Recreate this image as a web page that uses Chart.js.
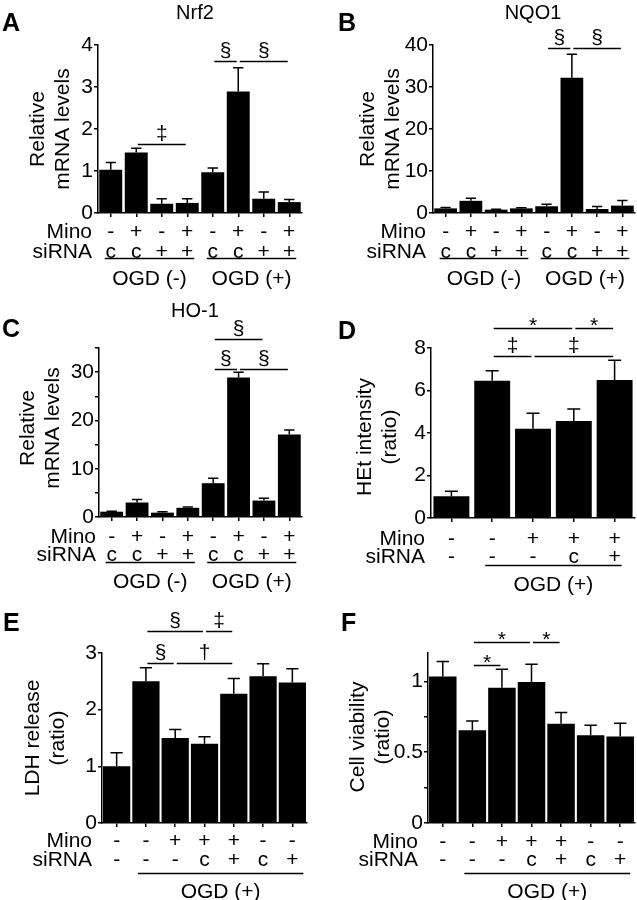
<!DOCTYPE html>
<html>
<head>
<meta charset="utf-8">
<script src="https://cdn.jsdelivr.net/npm/chart.js@4.4.1/dist/chart.umd.min.js"></script>
<style>
  body { margin: 0; background: #fff; }
  #wrap { position: relative; width: 637px; height: 900px; }
  canvas { position: absolute; }
</style>
</head>
<body>
<div id="wrap">
  <canvas id="chartA"></canvas>
  <canvas id="chartB"></canvas>
  <canvas id="chartC"></canvas>
  <canvas id="chartD"></canvas>
  <canvas id="chartE"></canvas>
  <canvas id="chartF"></canvas>
</div>
<script>
// conditions
var conditions8 = ["OGD- siC", "OGD- Mino siC", "OGD- siNrf2", "OGD- Mino siNrf2",
                   "OGD+ siC", "OGD+ Mino siC", "OGD+ siNrf2", "OGD+ Mino siNrf2"];
var conditions5 = ["Control", "OGD", "OGD Mino", "OGD Mino siC", "OGD Mino siNrf2"];
var conditions7 = ["Control", "OGD", "OGD Mino", "OGD Mino siC", "OGD Mino siNrf2", "OGD siC", "OGD siNrf2"];

// rows under the bars
var mino8 = ["-", "+", "-", "+", "-", "+", "-", "+"];
var sirna8 = ["c", "c", "+", "+", "c", "c", "+", "+"];
var groups8 = [[0, 3, "OGD (-)"], [4, 7, "OGD (+)"]];
var mino5 = ["-", "-", "+", "+", "+"];
var sirna5 = ["-", "-", "-", "c", "+"];
var groups5 = [[1, 4, "OGD (+)"]];
var mino7 = ["-", "-", "+", "+", "+", "-", "-"];
var sirna7 = ["-", "-", "-", "c", "+", "c", "+"];
var groups7 = [[1, 6, "OGD (+)"]];

// A  Nrf2
var nrf2Values = [1.03, 1.44, 0.22, 0.24, 0.97, 2.89, 0.34, 0.26];
var nrf2Errors = [0.17, 0.10, 0.12, 0.10, 0.10, 0.57, 0.16, 0.06];
var nrf2Brackets = [[1, 3, 1.65, "‡"], [4, 5, 3.62, "§"], [5, 7, 3.62, "§"]];

// B  NQO1
var nqo1Values = [1.1, 2.9, 0.8, 1.1, 1.6, 32.2, 0.95, 1.75];
var nqo1Errors = [0.2, 0.6, 0.1, 0.15, 0.5, 5.6, 0.6, 1.2];
var nqo1Brackets = [[4, 5, 39.3, "§"], [5, 7, 39.3, "§"]];

// C  HO-1
var ho1Values = [1.1, 3.0, 0.9, 1.9, 7.0, 28.9, 3.4, 17.1];
var ho1Errors = [0.1, 0.6, 0.2, 0.15, 1.0, 1.1, 0.5, 0.9];
var ho1Brackets = [[4, 6, 36.8, "§"], [4, 5, 30.6, "§"], [5, 7, 30.6, "§"]];

// D  HEt intensity
var hetValues = [1.02, 6.46, 4.2, 4.57, 6.5];
var hetErrors = [0.24, 0.47, 0.73, 0.56, 0.92];
var hetBrackets = [[1, 3, 8.94, "*"], [3, 4, 8.94, "*"], [1, 2, 7.62, "‡"], [2, 4, 7.62, "‡"]];

// E  LDH release
var ldhValues = [1.0, 2.5, 1.5, 1.4, 2.28, 2.59, 2.48];
var ldhErrors = [0.24, 0.24, 0.15, 0.12, 0.27, 0.22, 0.24];
var ldhBrackets = [[1, 3, 3.39, "§"], [3, 4, 3.39, "‡"], [1, 2, 2.82, "§"], [2, 4, 2.82, "†"]];

// F  Cell viability
var viaValues = [1.035, 0.655, 0.955, 0.995, 0.70, 0.62, 0.61];
var viaErrors = [0.105, 0.065, 0.13, 0.125, 0.08, 0.07, 0.095];
var viaBrackets = [[1, 3, 1.277, "*"], [3, 4, 1.277, "*"], [1, 2, 1.113, "*"]];

var FONT = '"Liberation Sans", Arial, sans-serif';
var TXT = 21;
var CAP = TXT * 0.36; // half cap height, to place text by its visual centre

var panels = [
  { id: "chartA", left: 0, top: 0, width: 318, height: 295,
    axisX: 98, axisRight: 302, axisTop: 45, axisBottom: 213,
    yMax: 4, yTicks: [0, 1, 2, 3, 4], yLabels: [0, 1, 2, 3, 4],
    categories: conditions8, values: nrf2Values, errors: nrf2Errors, brackets: nrf2Brackets,
    mino: mino8, sirna: sirna8, groups: groups8, barPct: 0.9,
    rowOff: [17, 37, 45, 64], rowLabelRight: 92, groupPad: [6, 7],
    title: ["Nrf2", 195, 12], yTitle: [["Relative", "mRNA levels"], [38, 63], 129], letter: ["A", 2, 22] },
  { id: "chartB", left: 318, top: 0, width: 319, height: 295,
    axisX: 433, axisRight: 635, axisTop: 45, axisBottom: 213,
    yMax: 40, yTicks: [0, 10, 20, 30, 40], yLabels: [0, 10, 20, 30, 40],
    categories: conditions8, values: nqo1Values, errors: nqo1Errors, brackets: nqo1Brackets,
    mino: mino8, sirna: sirna8, groups: groups8, barPct: 0.9,
    rowOff: [17, 37, 45, 64], rowLabelRight: 426, groupPad: [6, 7],
    title: ["NQO1", 533, 12], yTitle: [["Relative", "mRNA levels"], [368, 393], 129], letter: ["B", 338, 22] },
  { id: "chartC", left: 0, top: 295, width: 318, height: 305,
    axisX: 99, axisRight: 302, axisTop: 348, axisBottom: 517,
    yMax: 35, yTicks: [0, 5, 10, 15, 20, 25, 30, 35], yLabels: [0, 10, 20, 30],
    categories: conditions8, values: ho1Values, errors: ho1Errors, brackets: ho1Brackets,
    mino: mino8, sirna: sirna8, groups: groups8, barPct: 0.9,
    rowOff: [18, 36, 45, 63], rowLabelRight: 96, groupPad: [6, 7],
    title: ["HO-1", 195, 310], yTitle: [["Relative", "mRNA levels"], [28, 53], 428], letter: ["C", 2, 328] },
  { id: "chartD", left: 318, top: 295, width: 319, height: 305,
    axisX: 431, axisRight: 635, axisTop: 348, axisBottom: 518,
    yMax: 8, yTicks: [0, 2, 4, 6, 8], yLabels: [0, 2, 4, 6, 8],
    categories: conditions5, values: hetValues, errors: hetErrors, brackets: hetBrackets,
    mino: mino5, sirna: sirna5, groups: groups5, barPct: 0.88,
    rowOff: [19, 37, 47, 65], rowLabelRight: 425, groupPad: [7, 7],
    title: null, yTitle: [["HEt intensity", "(ratio)"], [365, 390], 437], letter: ["D", 338, 330] },
  { id: "chartE", left: 0, top: 600, width: 318, height: 300,
    axisX: 102, axisRight: 307, axisTop: 653, axisBottom: 823,
    yMax: 3, yTicks: [0, 1, 2, 3], yLabels: [0, 1, 2, 3],
    categories: conditions7, values: ldhValues, errors: ldhErrors, brackets: ldhBrackets,
    mino: mino7, sirna: sirna7, groups: groups7, barPct: 0.93,
    rowOff: [16, 35, 50, 67], rowLabelRight: 92, groupPad: [8, 11],
    title: null, yTitle: [["LDH release", "(ratio)"], [33, 58], 738], letter: ["E", 3, 622] },
  { id: "chartF", left: 318, top: 600, width: 319, height: 300,
    axisX: 428, axisRight: 635, axisTop: 653, axisBottom: 823,
    yMax: 1.2, yTicks: [0, 0.25, 0.5, 0.75, 1], yLabels: [0, 0.5, 1],
    categories: conditions7, values: viaValues, errors: viaErrors, brackets: viaBrackets,
    mino: mino7, sirna: sirna7, groups: groups7, barPct: 0.93,
    rowOff: [17, 35, 50, 67], rowLabelRight: 418, groupPad: [8, 10],
    title: null, yTitle: [["Cell viability", "(ratio)"], [358, 383], 737], letter: ["F", 341, 622] }
];

function figurePlugin(cfg) {
  return {
    id: "figure",
    afterDatasetsDraw: function(chart) {
      var ctx = chart.ctx;
      var xs = chart.scales.x, ys = chart.scales.y;
      var meta = chart.getDatasetMeta(0);
      var area = chart.chartArea;
      var ox = cfg.left, oy = cfg.top;
      ctx.save();
      ctx.strokeStyle = "#000";
      ctx.fillStyle = "#000";
      ctx.lineWidth = 1.5;

      // error bars (upper only)
      meta.data.forEach(function(bar, i) {
        var top = ys.getPixelForValue(cfg.values[i] + cfg.errors[i]);
        var cap = Math.min(13, bar.width * 0.45);
        ctx.beginPath();
        ctx.moveTo(bar.x, bar.y);
        ctx.lineTo(bar.x, top);
        ctx.moveTo(bar.x - cap / 2, top);
        ctx.lineTo(bar.x + cap / 2, top);
        ctx.stroke();
      });

      // significance brackets
      ctx.font = TXT + "px " + FONT;
      ctx.textAlign = "center";
      ctx.textBaseline = "alphabetic";
      cfg.brackets.forEach(function(b) {
        var xa = xs.getPixelForValue(b[0]) + 1.5;
        var xb = xs.getPixelForValue(b[1]) - 1.5;
        var yy = Math.round(ys.getPixelForValue(b[2])) + 0.5;
        ctx.beginPath();
        ctx.moveTo(xa, yy);
        ctx.lineTo(xb, yy);
        ctx.stroke();
        var off = b[3] === "*" ? 3 : -4.5;
        ctx.fillText(b[3], (xa + xb) / 2, yy + off);
      });

      // condition rows
      var bottom = area.bottom;
      ctx.textAlign = "center";
      cfg.mino.forEach(function(s, i) {
        ctx.fillText(s, xs.getPixelForValue(i), bottom + cfg.rowOff[0] + CAP);
      });
      cfg.sirna.forEach(function(s, i) {
        ctx.fillText(s, xs.getPixelForValue(i), bottom + cfg.rowOff[1] + CAP);
      });
      ctx.textAlign = "right";
      ctx.fillText("Mino", cfg.rowLabelRight - ox, bottom + cfg.rowOff[0] + CAP);
      ctx.fillText("siRNA", cfg.rowLabelRight - ox, bottom + cfg.rowOff[1] + CAP);
      ctx.textAlign = "center";
      cfg.groups.forEach(function(g) {
        var xa = xs.getPixelForValue(g[0]) - cfg.groupPad[0];
        var xb = xs.getPixelForValue(g[1]) + cfg.groupPad[1];
        var yy = Math.round(bottom + cfg.rowOff[2]) + 0.5;
        ctx.beginPath();
        ctx.moveTo(xa, yy);
        ctx.lineTo(xb, yy);
        ctx.stroke();
        ctx.fillText(g[2], (xa + xb) / 2, bottom + cfg.rowOff[3] + CAP);
      });

      // y axis title
      cfg.yTitle[0].forEach(function(line, k) {
        ctx.save();
        ctx.translate(cfg.yTitle[1][k] - ox, cfg.yTitle[2] - oy);
        ctx.rotate(-Math.PI / 2);
        ctx.textAlign = "center";
        ctx.textBaseline = "middle";
        ctx.fillText(line, 0, 0);
        ctx.restore();
      });

      // panel title
      if (cfg.title) {
        ctx.font = "20px " + FONT;
        ctx.textAlign = "center";
        ctx.textBaseline = "alphabetic";
        ctx.fillText(cfg.title[0], cfg.title[1] - ox, cfg.title[2] - oy + 7);
      }

      // panel letter
      ctx.font = "bold 25px " + FONT;
      ctx.textAlign = "left";
      ctx.textBaseline = "alphabetic";
      ctx.fillText(cfg.letter[0], cfg.letter[1] - ox, cfg.letter[2] - oy + 9);
      ctx.restore();
    }
  };
}

var Y_AXIS_W = 44;

panels.forEach(function(cfg) {
  var canvas = document.getElementById(cfg.id);
  canvas.width = cfg.width;
  canvas.height = cfg.height;
  canvas.style.left = cfg.left + "px";
  canvas.style.top = cfg.top + "px";
  canvas.style.width = cfg.width + "px";
  canvas.style.height = cfg.height + "px";

  new Chart(canvas, {
    type: "bar",
    data: {
      labels: cfg.categories,
      datasets: [{
        data: cfg.values,
        backgroundColor: "#000",
        borderWidth: 0,
        barPercentage: cfg.barPct,
        categoryPercentage: 1
      }]
    },
    options: {
      responsive: false,
      animation: false,
      devicePixelRatio: 1,
      layout: {
        padding: {
          left: cfg.axisX - cfg.left - Y_AXIS_W,
          right: cfg.left + cfg.width - cfg.axisRight,
          top: cfg.axisTop - cfg.top,
          bottom: cfg.top + cfg.height - cfg.axisBottom
        }
      },
      plugins: {
        legend: { display: false },
        tooltip: { enabled: false }
      },
      scales: {
        x: {
          type: "category",
          offset: true,
          ticks: { display: false },
          grid: { offset: false, drawOnChartArea: false, drawTicks: true, tickLength: 4, color: "#000", lineWidth: 1.5 },
          border: { color: "#000", width: 1.5 },
          afterFit: function(s) { s.height = 0; }
        },
        y: {
          min: 0,
          max: cfg.yMax,
          afterBuildTicks: function(s) {
            s.ticks = cfg.yTicks.map(function(v) { return { value: v }; });
          },
          afterFit: function(s) { s.width = Y_AXIS_W; },
          ticks: {
            autoSkip: false,
            padding: 1,
            color: "#000",
            font: { family: FONT, size: TXT },
            callback: function(v) { return cfg.yLabels.indexOf(v) >= 0 ? String(v) : ""; }
          },
          grid: { drawOnChartArea: false, drawTicks: true, tickLength: 4, color: "#000", lineWidth: 1.5 },
          border: { color: "#000", width: 1.5 }
        }
      }
    },
    plugins: [figurePlugin(cfg)]
  });
});
</script>
</body>
</html>
